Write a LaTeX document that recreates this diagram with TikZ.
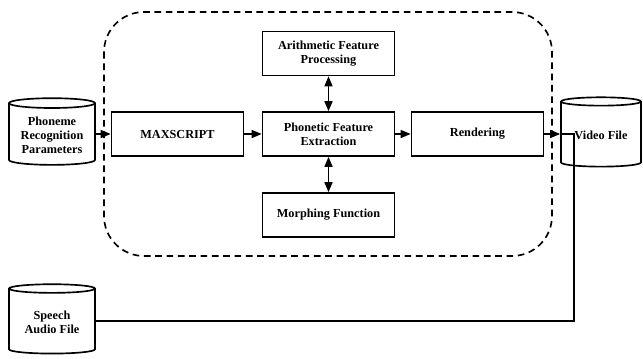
\documentclass[tikz,border=0pt]{standalone}
\usepackage{fontspec}
\setmainfont{Liberation Serif}
\usetikzlibrary{shapes.geometric,arrows.meta}

\tikzset{every picture/.style={line width=0.75pt}}
\tikzset{
  procbox/.style={draw, line width=1.25pt, minimum width=99pt, minimum height=33pt,
    align=center, inner sep=1pt, font=\fontsize{9.2}{10.5}\selectfont\bfseries},
  datastore/.style={draw, line width=1.25pt, cylinder, shape border rotate=90, aspect=0.15,
    align=center, inner sep=1pt, font=\fontsize{9.2}{10.5}\selectfont\bfseries},
  flow/.style={line width=1.1pt, -{Triangle[length=7.5pt,width=6pt]}},
  twoway/.style={line width=1.1pt, {Triangle[length=7.5pt,width=6pt]}-{Triangle[length=7.5pt,width=6pt]}},
}

\begin{document}
\begin{tikzpicture}[x=0.75pt,y=0.75pt,yscale=-1,xscale=1]
\useasboundingbox (0,0) rectangle (643,358);

%Shape: Rounded Rectangle (dashed frame)
\draw [line width=1.25pt, dash pattern=on 5pt off 3.5pt, rounded corners=30pt] (104,12) rectangle (552,256) ;

% Process blocks
\node [procbox] (maxscript) at (177.5,134) {MAXSCRIPT};
\node [procbox] (phonetic) at (328.5,134) {Phonetic Feature\\Extraction};
\node [procbox] (rendering) at (477.5,134) {Rendering};
\node [procbox] (arith) at (328.5,53.5) {Arithmetic Feature\\Processing};
\node [procbox] (morph) at (328.5,215) {Morphing Function};

% Data stores
\node [datastore, minimum width=64.5pt, minimum height=50pt] (phoneme) at (52,135) {Phoneme\\Recognition\\Parameters};
\node [datastore, minimum width=60pt, minimum height=52pt] (video) at (601,135) {Video File};
\node [datastore, minimum width=64.5pt, minimum height=52pt] (speech) at (52,322) {Speech\\Audio File};

%Straight Lines
\draw [flow] (phoneme.east |- maxscript.west) -- (maxscript.west) ;
\draw [flow] (maxscript) -- (phonetic) ;
\draw [flow] (phonetic) -- (rendering) ;
\draw [flow] (rendering.east) -- (video.west |- rendering.east) ;
\draw [twoway] (arith) -- (phonetic) ;
\draw [twoway] (phonetic) -- (morph) ;

% audio line into the video file
\coordinate (bend) at (574,321) ;
\draw [line width=1.1pt] (speech.east |- bend) -- (bend) |- (video.west |- rendering.east) ;

\end{tikzpicture}
\end{document}
